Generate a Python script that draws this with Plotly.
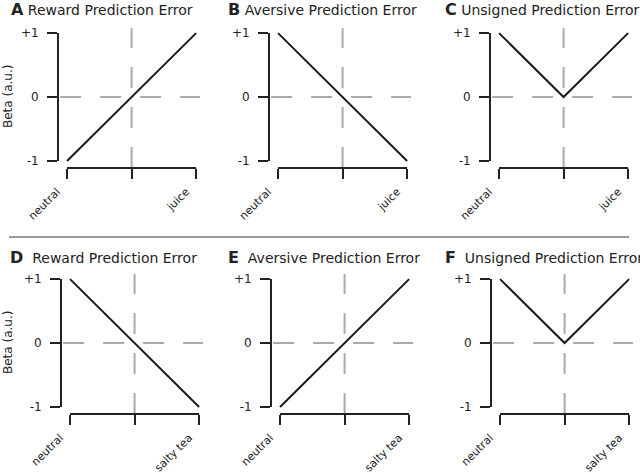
import plotly.graph_objects as go

# ---- data ----
x_positions = [0, 1, 2]
y_tickvals = [-1, 0, 1]
y_ticktext = ["-1", "0", "+1"]
x_labels_top = ["neutral", "", "juice"]
x_labels_bottom = ["neutral", "", "salty tea"]

reward_top = [-1, 0, 1]
aversive_top = [1, 0, -1]
unsigned_top = [1, 0, 1]
reward_bottom = [1, 0, -1]
aversive_bottom = [-1, 0, 1]
unsigned_bottom = [1, 0, 1]

panel_letters = ["A", "B", "C", "D", "E", "F"]
panel_titles = ["Reward Prediction Error", "Aversive Prediction Error", "Unsigned Prediction Error",
                "Reward Prediction Error", "Aversive Prediction Error", "Unsigned Prediction Error"]
series = [reward_top, aversive_top, unsigned_top, reward_bottom, aversive_bottom, unsigned_bottom]
xlabels = [x_labels_top] * 3 + [x_labels_bottom] * 3

# ---- layout geometry (pixels) ----
W, H = 640, 474
PW, PH = 142, 140
panel_pos = [(58, 28), (269, 28), (490, 28), (61, 274), (271, 274), (491, 274)]
title_pos = [(9, 10), (226, 10), (443, 10), (8, 257), (226, 257), (443, 257)]


def px(x):
    return x / W


def py(y):
    return 1 - y / H


DARK = "#222222"
GREY = "#aaaaaa"

fig = go.Figure()
layout = dict(width=W, height=H, margin=dict(l=0, r=0, t=0, b=0, autoexpand=False),
              paper_bgcolor="white", plot_bgcolor="white", showlegend=False,
              font=dict(family="DejaVu Sans", color=DARK))
shapes = []
annotations = []

for i in range(6):
    k = "" if i == 0 else str(i + 1)
    L, T = panel_pos[i]
    xd = [px(L), px(L + PW)]
    yd = [py(T + PH), py(T)]
    layout["xaxis" + k] = dict(domain=xd, range=[-0.14, 2.06], anchor="y" + k, automargin=False,
                               showgrid=False, zeroline=False, showline=False,
                               ticks="outside", ticklen=10, tickwidth=2, tickcolor=DARK,
                               tickvals=x_positions, ticktext=xlabels[i], tickangle=-45,
                               ticklabelshift=-10, ticklabelstandoff=2,
                               tickfont=dict(size=11, color=DARK), fixedrange=True)
    layout["yaxis" + k] = dict(domain=yd, range=[-1.11, 1.08], anchor="x" + k, automargin=False,
                               showgrid=False, zeroline=False, showline=False,
                               ticks="outside", ticklen=10, tickwidth=2, tickcolor=DARK,
                               tickvals=y_tickvals, ticktext=y_ticktext, ticklabelstandoff=6,
                               tickfont=dict(size=12, color=DARK), fixedrange=True)
    xr, yr = "x" + k, "y" + k
    # dashed reference lines
    shapes.append(dict(type="line", xref=xr + " domain", yref=yr, x0=0.015, x1=1, y0=0, y1=0,
                       line=dict(color=GREY, width=2, dash="21px,19px"), layer="below"))
    shapes.append(dict(type="line", xref=xr, yref=yr + " domain", x0=1, x1=1, y0=0, y1=1,
                       line=dict(color=GREY, width=2, dash="21px,19px"), layer="below"))
    # spines
    shapes.append(dict(type="line", xref=xr, yref=yr + " domain", x0=0, x1=2, y0=0, y1=0,
                       line=dict(color=DARK, width=2)))
    shapes.append(dict(type="line", xref=xr + " domain", yref=yr, x0=0, x1=0, y0=-1, y1=1,
                       line=dict(color=DARK, width=2)))
    fig.add_trace(go.Scatter(x=x_positions, y=series[i], mode="lines", xaxis=xr, yaxis=yr,
                             line=dict(color="#1a1a1a", width=2), hoverinfo="skip"))
    tx, ty = title_pos[i]
    sep = " " if i < 3 else "\u00a0\u00a0"
    annotations.append(dict(xref="paper", yref="paper", x=px(tx), y=py(ty),
                            xanchor="left", yanchor="middle", showarrow=False,
                            text="<b><span style='font-size:16px'>%s</span></b>%s%s" % (panel_letters[i], sep, panel_titles[i]),
                            font=dict(size=14, color=DARK)))

# y axis titles
for yc in (97, 343):
    annotations.append(dict(xref="paper", yref="paper", x=px(8), y=py(yc),
                            xanchor="center", yanchor="middle", showarrow=False, textangle=-90,
                            text="Beta (a.u.)", font=dict(size=12, color=DARK)))

# separator line
shapes.append(dict(type="line", xref="paper", yref="paper", x0=px(9), x1=px(629),
                   y0=py(237), y1=py(237), line=dict(color="#999999", width=2)))

layout["shapes"] = shapes
layout["annotations"] = annotations
fig.update_layout(**layout)
fig.write_html("out.html", config={"displayModeBar": False},
               post_script="document.body.style.margin='0';document.body.style.overflow='hidden';")
